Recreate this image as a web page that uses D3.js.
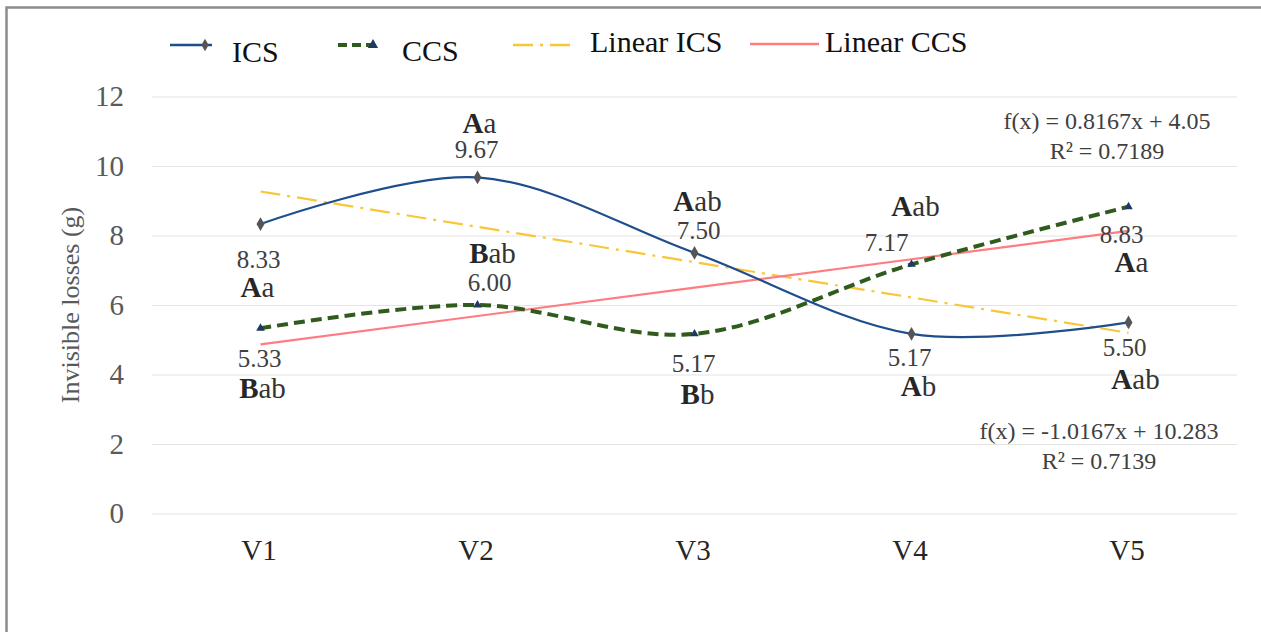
<!DOCTYPE html>
<html>
<head>
<meta charset="utf-8">
<script src="https://cdn.jsdelivr.net/npm/d3@7"></script>
<style>
  body { margin: 0; background: #fff; }
  svg { display: block; font-family: "Liberation Serif", "Times New Roman", serif; }
</style>
</head>
<body>
<script>
'use strict';

// chart values
const categories = ["V1", "V2", "V3", "V4", "V5"];
const icsValues = [8.33, 9.67, 7.50, 5.17, 5.50];
const ccsValues = [5.33, 6.00, 5.17, 7.17, 8.83];
const icsLetters = ["Aa", "Aa", "Aab", "Ab", "Aab"];
const ccsLetters = ["Bab", "Bab", "Bb", "Aab", "Aa"];
const yTicks = [0, 2, 4, 6, 8, 10, 12];
// trend lines as printed on the chart: [slope, intercept, r2]
const icsTrend = [-1.0167, 10.283, 0.7139];
const ccsTrend = [0.8167, 4.05, 0.7189];

(function () {

    let svg = "";

    // label offsets from the marker: [dx, dy] for value and for letters
    const icsValueOff = [[-2, 35], [-1, -28], [4, -23], [-2, 23], [-4, 25]];
    const icsLetterOff = [[-3, 63], [2, -55], [3, -52], [7, 52], [7, 56]];
    const ccsValueOff = [[-1, 30], [12, -23], [-1, 29], [-25, -22], [-7, 28]];
    const ccsLetterOff = [[2, 60], [15, -52], [3, 60], [4, -58], [3, 55]];

    window.onload = function () {
        svg = d3.select('body')
            .append('svg')
            .attr('width', 1261)
            .attr('height', 632);

        // outer frame (right and bottom edges fall outside the picture)
        svg.append('rect')
            .attr('x', 6.5)
            .attr('y', 7.5)
            .attr('width', 1400)
            .attr('height', 800)
            .attr('fill', 'none')
            .attr('stroke', '#8c8c8c')
            .attr('stroke-width', 2.5);

        let map = drawAxes();
        drawTrends(map);
        plotData(map);
        makeLabels();
        makeLegend();
    }

    // axes, grid lines and tick labels
    function drawAxes() {
        let xScale = d3.scalePoint()
            .domain(categories)
            .range([152, 1237])
            .padding(0.5);

        let yScale = d3.scaleLinear()
            .domain([0, 12])
            .range([513.5, 96.5]);

        // grid lines
        svg.append('g')
            .attr('transform', 'translate(152, 0)')
            .call(d3.axisLeft(yScale).tickValues(yTicks).tickSize(-1085).tickFormat(''))
            .call(g => g.select('.domain').remove())
            .call(g => g.selectAll('line').attr('stroke', '#e3e3e3').attr('stroke-width', 1.2));

        // y tick labels
        svg.append('g')
            .attr('transform', 'translate(124, 0)')
            .call(d3.axisLeft(yScale).tickValues(yTicks).tickSize(0).tickPadding(0))
            .call(g => g.select('.domain').remove())
            .call(g => g.selectAll('text')
                .style('font-family', '"Liberation Serif", serif')
                .style('font-size', '29px')
                .attr('fill', '#595959'));

        // x labels
        svg.append('g')
            .attr('transform', 'translate(0, 513.5)')
            .call(d3.axisBottom(xScale).tickSize(0).tickPadding(0))
            .call(g => g.select('.domain').remove())
            .call(g => g.selectAll('text')
                .attr('y', 36)
                .attr('dy', '0.35em')
                .attr('dx', -2)
                .style('font-family', '"Liberation Serif", serif')
                .style('font-size', '29px')
                .attr('fill', '#262626'));

        return { x: xScale, y: yScale };
    }

    // linear trend lines, drawn from V1 to V5
    function drawTrends(map) {
        let trendLine = function (t) {
            return d3.line()
                .x((d) => map.x(d))
                .y((d, i) => map.y(t[0] * (i + 1) + t[1]))(categories);
        };

        svg.append('path')
            .attr('d', trendLine(icsTrend))
            .attr('fill', 'none')
            .attr('stroke', '#f7c739')
            .attr('stroke-width', 2.2)
            .attr('stroke-dasharray', '20,7,3,7');

        svg.append('path')
            .attr('d', trendLine(ccsTrend))
            .attr('fill', 'none')
            .attr('stroke', '#ff7c80')
            .attr('stroke-width', 2.2);
    }

    // smoothed series lines, markers and data labels
    function plotData(map) {
        let line = d3.line()
            .x((d, i) => map.x(categories[i]))
            .y((d) => map.y(d))
            .curve(d3.curveCatmullRom.alpha(0));

        svg.append('path')
            .attr('d', line(icsValues))
            .attr('fill', 'none')
            .attr('stroke', '#1f4e8c')
            .attr('stroke-width', 2.2);

        svg.append('path')
            .attr('d', line(ccsValues))
            .attr('fill', 'none')
            .attr('stroke', '#2f5b1c')
            .attr('stroke-width', 4)
            .attr('stroke-dasharray', '11,6');

        svg.selectAll('.icsDot')
            .data(icsValues)
            .enter()
            .append('path')
            .attr('d', d3.symbol().type(d3.symbolDiamond).size(55))
            .attr('transform', (d, i) => 'translate(' + map.x(categories[i]) + ',' + map.y(d) + ')')
            .attr('fill', '#555555');

        svg.selectAll('.ccsDot')
            .data(ccsValues)
            .enter()
            .append('path')
            .attr('d', d3.symbol().type(d3.symbolTriangle).size(32))
            .attr('transform', (d, i) => 'translate(' + map.x(categories[i]) + ',' + map.y(d) + ')')
            .attr('fill', '#1f3864');

        addLabels(map, icsValues, icsLetters, icsValueOff, icsLetterOff);
        addLabels(map, ccsValues, ccsLetters, ccsValueOff, ccsLetterOff);
    }

    function addLabels(map, values, letters, valueOff, letterOff) {
        let fmt = d3.format('.2f');

        svg.append('g')
            .selectAll('text')
            .data(values)
            .enter()
            .append('text')
            .attr('x', (d, i) => map.x(categories[i]) + valueOff[i][0])
            .attr('y', (d, i) => map.y(d) + valueOff[i][1])
            .attr('dy', '0.35em')
            .attr('text-anchor', 'middle')
            .style('font-size', '25px')
            .attr('fill', '#404040')
            .text((d) => fmt(d));

        let t = svg.append('g')
            .selectAll('text')
            .data(letters)
            .enter()
            .append('text')
            .attr('x', (d, i) => map.x(categories[i]) + letterOff[i][0])
            .attr('y', (d, i) => map.y(values[i]) + letterOff[i][1])
            .attr('dy', '0.35em')
            .attr('text-anchor', 'middle')
            .style('font-size', '29px')
            .attr('fill', '#333333');

        // first letter in bold, rest regular
        t.append('tspan')
            .style('font-weight', 'bold')
            .attr('fill', '#262626')
            .text((d) => d.charAt(0));
        t.append('tspan')
            .text((d) => d.slice(1));
    }

    // axis title and trend line equations
    function makeLabels() {
        svg.append('text')
            .attr('transform', 'translate(79, 305)rotate(-90)')
            .attr('text-anchor', 'middle')
            .style('font-size', '26px')
            .attr('fill', '#595959')
            .text('Invisible losses (g)');

        let eq = function (t, x, y) {
            let sign = t[1] < 0 ? ' - ' : ' + ';
            svg.append('text')
                .attr('x', x)
                .attr('y', y)
                .attr('dy', '0.35em')
                .attr('text-anchor', 'middle')
                .style('font-size', '24px')
                .attr('fill', '#404040')
                .text('f(x) = ' + t[0] + 'x' + sign + Math.abs(t[1]));
            svg.append('text')
                .attr('x', x)
                .attr('y', y + 30)
                .attr('dy', '0.35em')
                .attr('text-anchor', 'middle')
                .style('font-size', '24px')
                .attr('fill', '#404040')
                .text('R² = ' + t[2]);
        };

        eq(ccsTrend, 1107, 121);
        eq(icsTrend, 1099, 431);
    }

    // legend on top
    function makeLegend() {
        let items = [
            { name: 'ICS', x0: 170, x1: 212, y: 45, ty: 62, tx: 232, color: '#1f4e8c', w: 2.5, dash: null, sym: d3.symbolDiamond, symColor: '#555555', symX: 205 },
            { name: 'CCS', x0: 338, x1: 380, y: 45, ty: 61, tx: 402, color: '#2f5b1c', w: 4, dash: '9,5', sym: d3.symbolTriangle, symColor: '#1f3864', symX: 373 },
            { name: 'Linear ICS', x0: 513, x1: 574, y: 45, ty: 52, tx: 590, color: '#f7c739', w: 2.5, dash: '20,7,3,7' },
            { name: 'Linear CCS', x0: 750, x1: 819, y: 44, ty: 52, tx: 825, color: '#ff7c80', w: 2.5, dash: null }
        ];

        let g = svg.append('g');
        items.forEach(function (d) {
            g.append('line')
                .attr('x1', d.x0)
                .attr('x2', d.x1)
                .attr('y1', d.y)
                .attr('y2', d.y)
                .attr('stroke', d.color)
                .attr('stroke-width', d.w)
                .attr('stroke-dasharray', d.dash);
            if (d.sym) {
                g.append('path')
                    .attr('d', d3.symbol().type(d.sym).size(45))
                    .attr('transform', 'translate(' + d.symX + ',' + d.y + ')')
                    .attr('fill', d.symColor);
            }
            g.append('text')
                .attr('x', d.tx)
                .attr('y', d.ty)
                .style('font-size', '30px')
                .attr('fill', '#111111')
                .text(d.name);
        });
    }

})();
</script>
</body>
</html>
